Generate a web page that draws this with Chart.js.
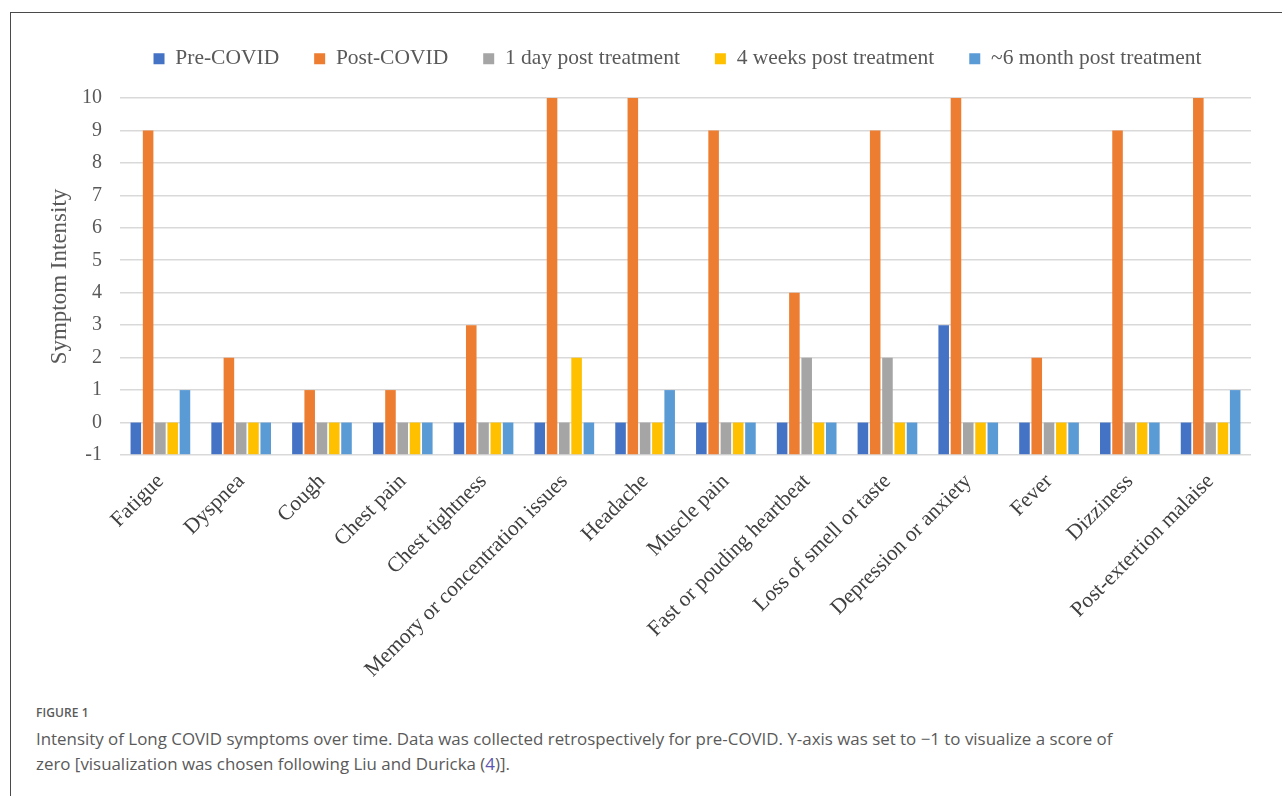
<!DOCTYPE html>
<html>
<head>
<meta charset="utf-8">
<script src="https://cdn.jsdelivr.net/npm/chart.js@4.4.1/dist/chart.umd.min.js"></script>
<style>
  html, body { margin: 0; padding: 0; background: #fff; overflow: hidden; }
  body { width: 1282px; height: 796px; position: relative; }
  .frame {
    position: absolute; left: 10px; top: 12px; width: 1300px; height: 820px;
    border-left: 1px solid #4a4a4a; border-top: 1px solid #4a4a4a;
  }
  #wrap { position: absolute; left: 0; top: 0; width: 1282px; height: 700px; }
  .caption {
    position: absolute; left: 36px; top: 703px; width: 1236px;
    font-family: "Open Sans", "Noto Sans", sans-serif; color: #5a5a5a;
  }
  .caption .fig { font-size: 12px; font-weight: 600; letter-spacing: 0.1px; line-height: 20px; }
  .caption .txt { font-size: 16.9px; line-height: 25px; margin-top: 3px; }
  .caption .ref { color: #5b55b0; }
</style>
</head>
<body>
<div class="frame"></div>
<div id="wrap"><canvas id="chart"></canvas></div>
<div class="caption">
  <div class="fig">FIGURE 1</div>
  <div class="txt">Intensity of Long COVID symptoms over time. Data was collected retrospectively for pre-COVID. Y-axis was set to −1 to visualize a score of<br>zero [visualization was chosen following Liu and Duricka (<span class="ref">4</span>)].</div>
</div>
<script>
// Symptoms reported by the patient
const symptoms = [
  "Fatigue", "Dyspnea", "Cough", "Chest pain", "Chest tightness",
  "Memory or concentration issues", "Headache", "Muscle pain",
  "Fast or pouding heartbeat", "Loss of smell or taste",
  "Depression or anxiety", "Fever", "Dizziness", "Post-extertion malaise"
];

// Symptom intensity score per time point
const preCovid        = [0, 0, 0, 0, 0, 0, 0, 0, 0, 0, 3, 0, 0, 0];
const postCovid       = [9, 2, 1, 1, 3, 10, 10, 9, 4, 9, 10, 2, 9, 10];
const oneDayPost      = [0, 0, 0, 0, 0, 0, 0, 0, 2, 2, 0, 0, 0, 0];
const fourWeeksPost   = [0, 0, 0, 0, 0, 2, 0, 0, 0, 0, 0, 0, 0, 0];
const sixMonthsPost   = [1, 0, 0, 0, 0, 0, 1, 0, 0, 0, 0, 0, 0, 1];

const seriesNames = ["Pre-COVID", "Post-COVID", "1 day post treatment", "4 weeks post treatment", "~6 month post treatment"];
const seriesColors = ["#4472C4", "#ED7D31", "#A5A5A5", "#FFC000", "#5B9BD5"];
const seriesValues = [preCovid, postCovid, oneDayPost, fourWeeksPost, sixMonthsPost];

// Y tick values shown on the value axis
const yTicks = [-1, 0, 1, 2, 3, 4, 5, 6, 7, 8, 9, 10];

// Bars grow from the -1 floor so that a score of zero is still visible
const datasets = seriesNames.map((name, i) => ({
  label: name,
  data: seriesValues[i],
  backgroundColor: seriesColors[i],
  borderWidth: 0,
  base: -1,
  categoryPercentage: 0.76,
  barPercentage: 0.86
}));

// Moves the legend row and reserves the space under it
const legendPlacement = {
  id: 'legendPlacement',
  beforeInit(chart) {
    const fit = chart.legend.fit;
    chart.legend.fit = function () {
      fit.call(this);
      this.height = 85;
    };
  },
  afterLayout(chart) {
    const lg = chart.legend;
    lg.left += 31;
    lg.right += 31;
  }
};

const serif = "'Liberation Serif', 'Times New Roman', serif";

new Chart(document.getElementById('chart'), {
  type: 'bar',
  data: { labels: symptoms, datasets },
  plugins: [legendPlacement],
  options: {
    responsive: true,
    maintainAspectRatio: false,
    animation: false,
    layout: { padding: { left: 42, right: 31, top: 13, bottom: 0 } },
    plugins: {
      tooltip: { enabled: false },
      legend: {
        position: 'top',
        labels: {
          boxWidth: 11,
          boxHeight: 11,
          padding: 35,
          color: '#595959',
          font: { family: serif, size: 21.5 }
        }
      }
    },
    scales: {
      x: {
        grid: { display: false, drawTicks: false },
        border: { display: false },
        ticks: {
          minRotation: 45,
          maxRotation: 45,
          autoSkip: false,
          padding: 14,
          color: '#404040',
          font: { family: serif, size: 21.5 }
        },
        afterFit(scale) { scale.height = 245; }
      },
      y: {
        min: -1,
        max: 10,
        afterBuildTicks(scale) { scale.ticks = yTicks.map(v => ({ value: v })); },
        grid: { color: '#D9D9D9', lineWidth: 1.6, drawTicks: false },
        border: { display: false },
        ticks: {
          padding: 18,
          color: '#595959',
          font: { family: serif, size: 20 }
        },
        title: {
          display: true,
          text: 'Symptom Intensity',
          color: '#595959',
          font: { family: serif, size: 23 },
          padding: { top: 4, bottom: 4 }
        },
        afterFit(scale) { scale.width = 78; }
      }
    }
  }
});
</script>
</body>
</html>
